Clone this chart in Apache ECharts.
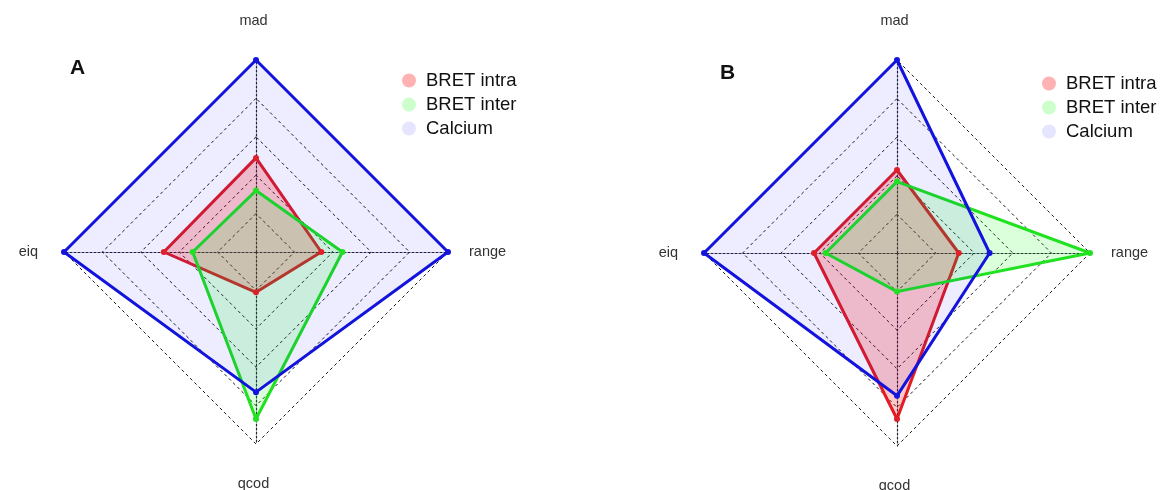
<!DOCTYPE html>
<html>
<head>
<meta charset="utf-8">
<script src="https://cdn.jsdelivr.net/npm/echarts@6/dist/echarts.min.js"></script>
<style>
html,body{margin:0;padding:0;background:#fff;}
#chart{width:1163px;height:490px;}
</style>
</head>
<body>
<div id="chart"></div>
<script>
// Axis order (starting at top, going counter-clockwise)
const axes = ['mad', 'eiq', 'qcod', 'range'];
const seriesNames = ['BRET intra', 'BRET inter', 'Calcium'];

// Panel A values (fraction of axis max), in the order of `axes`
const A_intra   = [0.49, 0.48, 0.21, 0.34];
const A_inter   = [0.32, 0.33, 0.87, 0.45];
const A_calcium = [1.00, 1.00, 0.73, 1.00];

// Panel B values
const B_intra   = [0.43, 0.43, 0.86, 0.32];
const B_inter   = [0.37, 0.37, 0.20, 1.00];
const B_calcium = [1.00, 1.00, 0.74, 0.48];

const lineColors = ['#de2028', '#22e022', '#1414dc'];
const fillColors = ['rgba(255,0,0,0.3)', 'rgba(0,255,0,0.2)', 'rgba(0,0,255,0.1)'];

const FONT = 'Liberation Sans, Arial, sans-serif';

function radarCfg(cx, cy, r) {
  return {
    center: [cx, cy],
    radius: r,
    shape: 'polygon',
    startAngle: 90,
    splitNumber: 5,
    indicator: axes.map(n => ({ name: n, min: 0, max: 1 })),
    nameGap: 21,
    axisName: { color: '#333', fontSize: 14.5, fontFamily: FONT, padding: [11, 5, 11, 0] },
    splitArea: { show: false },
    splitLine: { lineStyle: { color: '#1a1a1a', width: 1, type: [3, 3] } },
    axisLine: { lineStyle: { color: '#223', width: 1.2, type: [2, 2] } },
    axisTick: { show: false },
    axisLabel: { show: false }
  };
}

function seriesData(arrs) {
  return arrs.map((vals, i) => ({
    name: seriesNames[i],
    value: vals,
    symbol: 'circle',
    symbolSize: 6,
    itemStyle: { color: lineColors[i] },
    lineStyle: { color: lineColors[i], width: 3 },
    areaStyle: { color: fillColors[i] }
  }));
}

function legendCfg(left, top) {
  return {
    left: left, top: top, orient: 'vertical',
    icon: 'circle', itemWidth: 14, itemHeight: 14, itemGap: 5,
    textStyle: { fontSize: 18.5, color: '#111', fontFamily: FONT, padding: [0, 0, 0, 5] },
    data: seriesNames.map((n, i) => ({ name: n, itemStyle: { color: fillColors[i], borderWidth: 0 } })),
    selectedMode: false
  };
}

const chart = echarts.init(document.getElementById('chart'));
chart.setOption({
  animation: false,
  backgroundColor: '#fff',
  title: [
    { text: 'A', left: 65, top: 53, textStyle: { fontSize: 21, fontWeight: 'bold', color: '#111', fontFamily: FONT } },
    { text: 'B', left: 715, top: 58, textStyle: { fontSize: 21, fontWeight: 'bold', color: '#111', fontFamily: FONT } }
  ],
  legend: [legendCfg(397, 66), legendCfg(1037, 69)],
  radar: [radarCfg(256, 252, 192), radarCfg(897, 253, 193)],
  series: [
    { type: 'radar', radarIndex: 0, silent: true, data: seriesData([A_intra, A_inter, A_calcium]) },
    { type: 'radar', radarIndex: 1, silent: true, data: seriesData([B_intra, B_inter, B_calcium]) }
  ]
});
</script>
</body>
</html>
